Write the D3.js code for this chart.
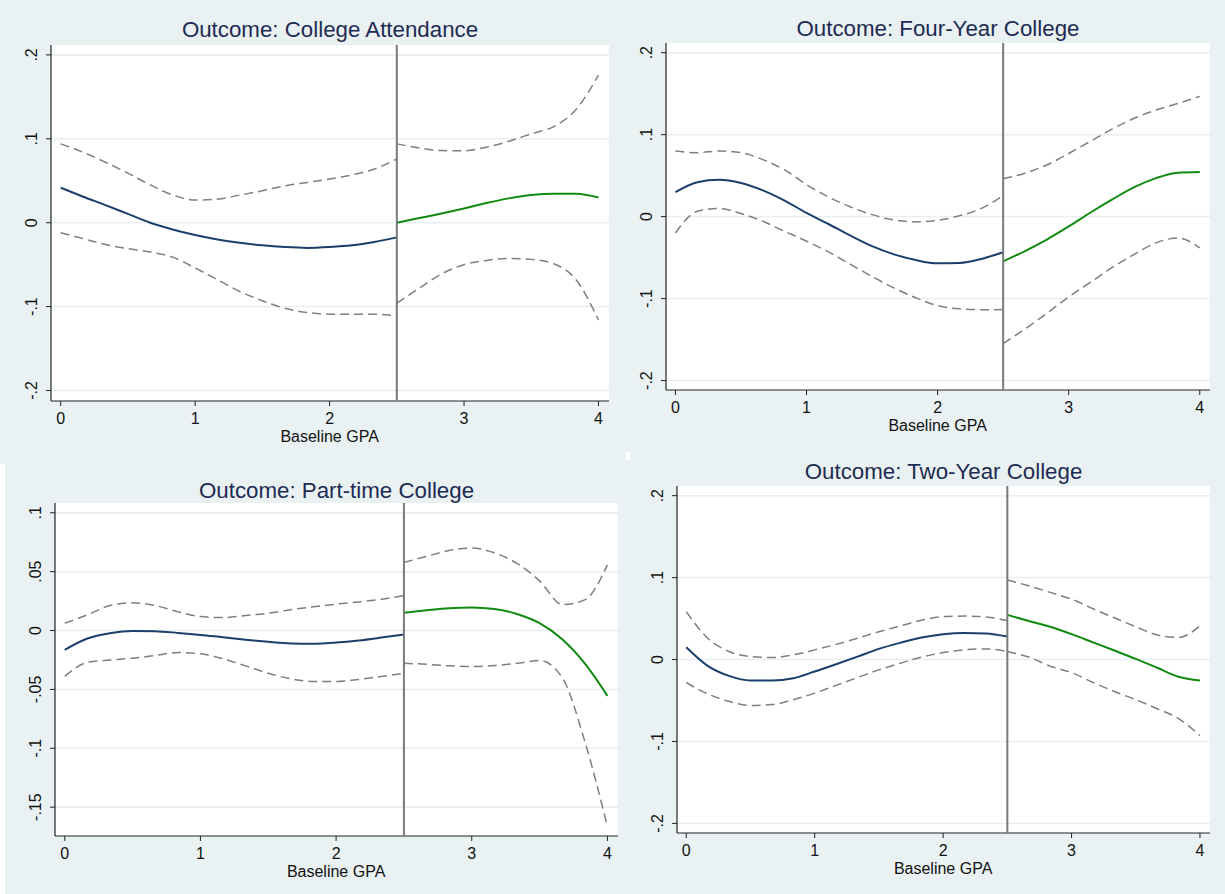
<!DOCTYPE html>
<html>
<head>
	<meta charset="utf-8">
	<title>RD plots by outcome</title>
	<script src="https://d3js.org/d3.v7.min.js"></script>
	<style>
		body { margin: 0; background: #e9f1f3; }
		svg { display: block; }
		text { font-family: "Liberation Sans", Arial, sans-serif; }
	</style>
</head>
<body>
<div id="chart"></div>
<script type="text/javascript">

	// GPA grid (left and right of the 2.5 cutoff)
	var gpaLeft = [0, 0.167, 0.333, 0.5, 0.667, 0.833, 1, 1.167, 1.333, 1.5, 1.667, 1.833, 2, 2.167, 2.333, 2.5];
	var gpaRight = [2.5, 2.667, 2.833, 3, 3.167, 3.333, 3.5, 3.667, 3.833, 4];
	var cutoff = 2.5;

	var xTicks = [0, 1, 2, 3, 4];
	var yTicksWide = [-0.2, -0.1, 0, 0.1, 0.2];
	var yTicksPart = [-0.15, -0.1, -0.05, 0, 0.05, 0.1];

	// College attendance
	var attendFitL = [0.0417, 0.031, 0.021, 0.0105, 0.0, -0.008, -0.0147, -0.020, -0.024, -0.027, -0.029, -0.030, -0.029, -0.027, -0.023, -0.0175];
	var attendHiL = [0.094, 0.084, 0.072, 0.059, 0.045, 0.033, 0.027, 0.028, 0.033, 0.038, 0.044, 0.048, 0.052, 0.057, 0.064, 0.076];
	var attendLoL = [-0.012, -0.019, -0.026, -0.031, -0.035, -0.041, -0.054, -0.068, -0.082, -0.093, -0.102, -0.107, -0.109, -0.109, -0.109, -0.111];
	var attendFitR = [0.0, 0.0055, 0.011, 0.017, 0.0235, 0.029, 0.033, 0.0345, 0.0345, 0.030];
	var attendHiR = [0.094, 0.089, 0.086, 0.0857, 0.090, 0.097, 0.106, 0.1145, 0.135, 0.176];
	var attendLoR = [-0.096, -0.078, -0.061, -0.050, -0.045, -0.0425, -0.0437, -0.049, -0.068, -0.116];

	// Four-year college
	var fourFitL = [0.030, 0.042, 0.045, 0.041, 0.032, 0.0195, 0.0045, -0.009, -0.023, -0.036, -0.046, -0.053, -0.057, -0.0565, -0.0516, -0.0435];
	var fourHiL = [0.080, 0.078, 0.080, 0.078, 0.0695, 0.057, 0.039, 0.024, 0.012, 0.0024, -0.004, -0.0065, -0.0045, 0.001, 0.010, 0.0256];
	var fourLoL = [-0.020, 0.0065, 0.0098, 0.0037, -0.0057, -0.018, -0.030, -0.043, -0.058, -0.073, -0.087, -0.099, -0.1085, -0.1125, -0.1135, -0.1134];
	var fourFitR = [-0.0545, -0.042, -0.028, -0.012, 0.005, 0.021, 0.036, 0.047, 0.0535, 0.0545];
	var fourHiR = [0.0463, 0.053, 0.063, 0.077, 0.092, 0.107, 0.120, 0.130, 0.138, 0.1467];
	var fourLoR = [-0.155, -0.137, -0.118, -0.098, -0.080, -0.062, -0.046, -0.032, -0.026, -0.038];

	// Part-time college
	var partFitL = [-0.0164, -0.0068, -0.0023, -0.0003, -0.0006, -0.002, -0.0037, -0.0058, -0.0078, -0.0096, -0.011, -0.0113, -0.0102, -0.0084, -0.006, -0.0034];
	var partHiL = [0.0062, 0.0133, 0.0212, 0.0235, 0.0212, 0.016, 0.0119, 0.011, 0.0128, 0.0147, 0.0177, 0.0201, 0.0224, 0.0243, 0.0265, 0.0297];
	var partLoL = [-0.039, -0.027, -0.025, -0.0235, -0.0212, -0.0187, -0.0198, -0.024, -0.030, -0.0363, -0.041, -0.0432, -0.0433, -0.0415, -0.039, -0.0363];
	var partFitR = [0.015, 0.0172, 0.019, 0.0195, 0.0182, 0.014, 0.0062, -0.0075, -0.028, -0.0555];
	var partHiR = [0.0578, 0.063, 0.068, 0.070, 0.066, 0.057, 0.0422, 0.022, 0.026, 0.0558];
	var partLoR = [-0.0278, -0.0287, -0.030, -0.0306, -0.0298, -0.0278, -0.0255, -0.040, -0.094, -0.1666];

	// Two-year college
	var twoFitL = [0.015, -0.0077, -0.020, -0.0256, -0.0256, -0.0228, -0.0146, -0.0057, 0.0035, 0.013, 0.0205, 0.027, 0.031, 0.0325, 0.0317, 0.028];
	var twoHiL = [0.0585, 0.026, 0.0098, 0.0037, 0.0024, 0.0057, 0.0118, 0.0185, 0.026, 0.034, 0.041, 0.048, 0.0524, 0.053, 0.052, 0.0476];
	var twoLoL = [-0.028, -0.042, -0.051, -0.056, -0.055, -0.049, -0.041, -0.0315, -0.022, -0.0126, -0.0045, 0.003, 0.0085, 0.012, 0.013, 0.0098];
	var twoFitR = [0.0545, 0.047, 0.040, 0.031, 0.021, 0.011, 0.0008, -0.010, -0.021, -0.0256];
	var twoHiR = [0.097, 0.090, 0.082, 0.0736, 0.062, 0.051, 0.040, 0.030, 0.027, 0.041];
	var twoLoR = [0.0098, 0.003, -0.008, -0.0159, -0.028, -0.039, -0.049, -0.060, -0.072, -0.093];


	var W = 1225, H = 894;
	var svg = d3.select("#chart").append("svg")
		.attr("width", W)
		.attr("height", H);

	svg.append("rect").attr("width", W).attr("height", H).attr("fill", "#e9f1f3");
	// white seams left over from pasting the four graphs together
	svg.append("rect").attr("x", 0).attr("y", 464).attr("width", 5).attr("height", H - 464).attr("fill", "#fff");
	svg.append("rect").attr("x", 626).attr("y", 452).attr("width", 4).attr("height", 8).attr("fill", "#fff");

	var fmt = function(v) {
		if (v === 0) return "0";
		return String(+v.toFixed(3)).replace(/^(-?)0\./, "$1.");
	};

	function drawPanel(p) {
		var g = svg.append("g");
		var x = d3.scaleLinear().domain([-0.072, 4.078]).range([p.left, p.right]);
		var y = d3.scaleLinear().domain(p.ydom).range([p.bottom, p.top]);

		// plot region
		g.append("rect")
			.attr("x", p.left).attr("y", p.top)
			.attr("width", p.right - p.left).attr("height", p.bottom - p.top)
			.attr("fill", "#fff");

		// grid
		g.selectAll(".grid").data(p.yticks).enter().append("line")
			.attr("x1", p.left).attr("x2", p.right)
			.attr("y1", function(d){ return y(d); }).attr("y2", function(d){ return y(d); })
			.attr("stroke", "#e6eef1").attr("stroke-width", 1.5);

		// title
		g.append("text")
			.attr("x", (p.left + p.right) / 2).attr("y", p.titleY)
			.attr("text-anchor", "middle")
			.attr("font-size", 22.3)
			.attr("fill", "#1e2b52")
			.text(p.title);

		// y axis
		g.append("line")
			.attr("x1", p.left).attr("x2", p.left)
			.attr("y1", p.top).attr("y2", p.bottom)
			.attr("stroke", "#222").attr("stroke-width", 1.2);
		g.selectAll(".ytick").data(p.yticks).enter().append("line")
			.attr("x1", p.left - 5).attr("x2", p.left)
			.attr("y1", function(d){ return y(d); }).attr("y2", function(d){ return y(d); })
			.attr("stroke", "#222").attr("stroke-width", 1);
		g.selectAll(".ylab").data(p.yticks).enter().append("text")
			.attr("transform", function(d){ return "translate(" + (p.left - 20) + "," + y(d) + ") rotate(-90)"; })
			.attr("text-anchor", "middle")
			.attr("dy", "0.35em")
			.attr("font-size", 16)
			.attr("fill", "#111")
			.text(fmt);

		// x axis
		g.append("line")
			.attr("x1", p.left).attr("x2", p.right)
			.attr("y1", p.bottom).attr("y2", p.bottom)
			.attr("stroke", "#222").attr("stroke-width", 1.2);
		g.selectAll(".xtick").data(xTicks).enter().append("line")
			.attr("x1", function(d){ return x(d); }).attr("x2", function(d){ return x(d); })
			.attr("y1", p.bottom).attr("y2", p.bottom + 5)
			.attr("stroke", "#222").attr("stroke-width", 1);
		g.selectAll(".xlab").data(xTicks).enter().append("text")
			.attr("x", function(d){ return x(d); }).attr("y", p.bottom + 23)
			.attr("text-anchor", "middle")
			.attr("font-size", 16)
			.attr("fill", "#111")
			.text(fmt);
		g.append("text")
			.attr("x", (x(0) + x(4)) / 2).attr("y", p.bottom + 41)
			.attr("text-anchor", "middle")
			.attr("font-size", 16)
			.attr("fill", "#111")
			.text("Baseline GPA");

		// lines
		var line = function(xs) {
			return d3.line()
				.x(function(d, i){ return x(xs[i]); })
				.y(function(d){ return y(d); })
				.curve(d3.curveMonotoneX);
		};
		var lineL = line(gpaLeft), lineR = line(gpaRight);

		[p.hiL, p.loL].forEach(function(s) {
			g.append("path").attr("d", lineL(s)).attr("fill", "none")
				.attr("stroke", "#7f7f7f").attr("stroke-width", 1.5).attr("stroke-dasharray", "9,5");
		});
		[p.hiR, p.loR].forEach(function(s) {
			g.append("path").attr("d", lineR(s)).attr("fill", "none")
				.attr("stroke", "#7f7f7f").attr("stroke-width", 1.5).attr("stroke-dasharray", "9,5");
		});
		g.append("path").attr("d", lineL(p.fitL)).attr("fill", "none")
			.attr("stroke", "#1a3f6b").attr("stroke-width", 2);
		g.append("path").attr("d", lineR(p.fitR)).attr("fill", "none")
			.attr("stroke", "#108a10").attr("stroke-width", 2);

		// cutoff
		g.append("line")
			.attr("x1", x(cutoff)).attr("x2", x(cutoff))
			.attr("y1", p.top).attr("y2", p.bottom)
			.attr("stroke", "#7a7a7a").attr("stroke-width", 2);
	}

	drawPanel({ title: "Outcome: College Attendance", left: 51, right: 609, top: 45, bottom: 401, titleY: 36.5,
		ydom: [-0.2125, 0.2118], yticks: yTicksWide,
		fitL: attendFitL, hiL: attendHiL, loL: attendLoL, fitR: attendFitR, hiR: attendHiR, loR: attendLoR });

	drawPanel({ title: "Outcome: Four-Year College", left: 666, right: 1210, top: 43, bottom: 390, titleY: 35.5,
		ydom: [-0.2115, 0.2118], yticks: yTicksWide,
		fitL: fourFitL, hiL: fourHiL, loL: fourLoL, fitR: fourFitR, hiR: fourHiR, loR: fourLoR });

	drawPanel({ title: "Outcome: Part-time College", left: 55, right: 618, top: 503, bottom: 836, titleY: 497.5,
		ydom: [-0.1745, 0.1083], yticks: yTicksPart,
		fitL: partFitL, hiL: partHiL, loL: partLoL, fitR: partFitR, hiR: partHiR, loR: partLoR });

	drawPanel({ title: "Outcome: Two-Year College", left: 677, right: 1210, top: 486, bottom: 833, titleY: 479,
		ydom: [-0.2117, 0.2118], yticks: yTicksWide,
		fitL: twoFitL, hiL: twoHiL, loL: twoLoL, fitR: twoFitR, hiR: twoHiR, loR: twoLoR });

</script>
</body>
</html>
